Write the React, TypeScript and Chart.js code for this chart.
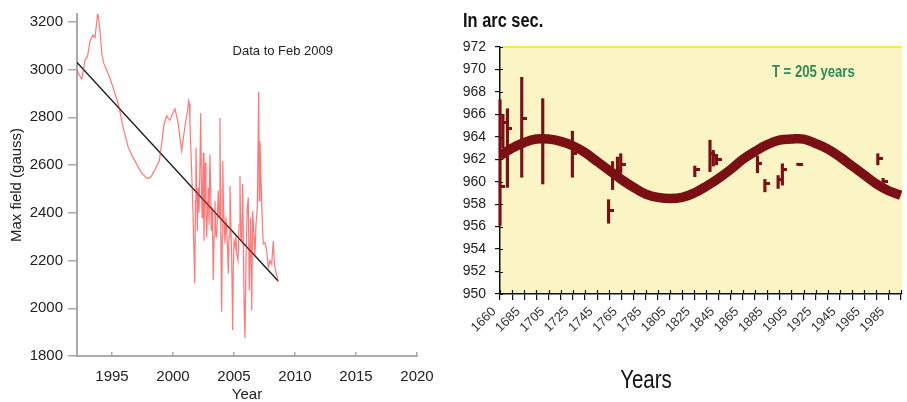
import React, { useEffect, useRef } from "react";
import { Chart, registerables } from "chart.js";

Chart.register(...registerables);

// ---------- Left chart: sunspot max field ----------
const fieldYears = [
  1992.15, 1992.33, 1992.52, 1992.66, 1992.78, 1992.99, 1993.2, 1993.42, 1993.61, 1993.83,
  1994.02, 1994.18, 1994.34, 1994.83, 1995.52, 1995.9, 1996.33, 1996.64, 1997.02, 1997.38,
  1997.84, 1998.11, 1998.25, 1998.52, 1998.88, 1999.1, 1999.26, 1999.48, 1999.63, 1999.75,
  1999.92, 2000.16, 2000.41, 2000.71, 2000.93, 2001.06, 2001.2, 2001.28, 2001.35, 2001.39,
  2001.51,
  2001.64, 2001.78, 2001.84, 2001.88, 2001.95, 2001.99, 2002.05, 2002.13, 2002.21, 2002.27,
  2002.32, 2002.38, 2002.43, 2002.48, 2002.54, 2002.58, 2002.65, 2002.7, 2002.76, 2002.83,
  2002.89, 2002.95, 2003.03, 2003.09, 2003.14, 2003.2, 2003.25, 2003.3, 2003.36, 2003.44,
  2003.5, 2003.58, 2003.65, 2003.71, 2003.77, 2003.85, 2003.89, 2003.93, 2003.99, 2004.04,
  2004.08, 2004.14, 2004.2, 2004.26, 2004.34, 2004.4, 2004.47, 2004.53, 2004.59, 2004.67,
  2004.74, 2004.81, 2004.89, 2004.94, 2005.0, 2005.08, 2005.16, 2005.22, 2005.33, 2005.41,
  2005.49, 2005.55, 2005.63, 2005.71, 2005.76, 2005.82, 2005.9, 2005.98, 2006.09, 2006.17,
  2006.25, 2006.37, 2006.45, 2006.53, 2006.64, 2006.72, 2006.8, 2006.91, 2007.02, 2007.07,
  2007.13, 2007.21, 2007.32, 2007.4, 2007.54, 2007.68, 2007.81, 2007.95, 2008.09, 2008.22,
  2008.3, 2008.44, 2008.55, 2008.63,
];
const fieldGauss = [
  2995, 2975, 2960, 3000, 3040, 3055, 3120, 3145, 3135, 3240,
  3160, 3060, 3025, 2965, 2856, 2760, 2674, 2640, 2604, 2570,
  2545, 2545, 2556, 2580, 2619, 2700, 2770, 2806, 2795, 2788,
  2810, 2836, 2780, 2660, 2744, 2790, 2827, 2870, 2855, 2770,
  2600,
  2400, 2104, 2450, 2672, 2480, 2325, 2505, 2400, 2600, 2818,
  2550, 2380, 2500, 2651, 2283, 2450, 2610, 2400, 2297, 2420,
  2505, 2350, 2644, 2500, 2325, 2422, 2300, 2117, 2300, 2450,
  2330, 2297, 2400, 2492, 2380, 2797, 2500, 2229, 1985, 2300,
  2617, 2420, 2354, 2271, 2380, 2330, 2250, 2146, 2300, 2512,
  2350, 2214, 1908, 2150, 2280, 2260, 2300, 2230, 2200, 2350,
  2554, 2300, 2283, 2521, 2300, 2033, 1875, 2200, 2422, 2464,
  2075, 2380, 1992, 2408, 2300, 2220, 2350, 2422, 2908, 2450,
  2700, 2547, 2367, 2270, 2275, 2242, 2172, 2200, 2185, 2283,
  2190, 2150, 2130, 2110,
];
const trendYears = [1992.13, 2008.6];
const trendGauss = [3030, 2115];
const leftXTicks = [1995, 2000, 2005, 2010, 2015, 2020];
const leftYTicks = [1800, 2000, 2200, 2400, 2600, 2800, 3000, 3200];
const leftXRange = [1992.13, 2020];
const leftYRange = [1800, 3233];

// ---------- Right chart: solar diameter in arc sec ----------
const fitYears = [
  1665, 1675, 1685, 1695, 1705, 1715, 1725, 1735, 1745, 1755, 1765, 1775, 1785, 1795, 1805, 1815, 1825,
  1835, 1845, 1855, 1865, 1875, 1885, 1895, 1905, 1915, 1925, 1935, 1945, 1955, 1965, 1975, 1985, 1995,
];
const fitArcsec = [
  962.3, 963.0, 963.5, 963.8, 963.8, 963.6, 963.2, 962.6, 961.8, 961.0, 960.2, 959.5, 958.9, 958.6, 958.5, 958.6, 959.0,
  959.6, 960.3, 961.1, 962.0, 962.7, 963.3, 963.7, 963.8, 963.8, 963.4, 962.9, 962.2, 961.4, 960.6, 959.8, 959.2, 958.8,
];
const obsYears = [1665.0, 1667.4, 1671.1, 1682.9, 1700.2, 1724.6, 1754.4, 1757.7, 1761.7, 1764.4, 1825.4, 1837.9, 1840.6, 1843.3, 1877.0, 1883.1, 1894.0, 1897.5, 1910.3, 1976.1, 1980.4];
const obsHigh = [967.3, 966.0, 966.5, 969.3, 967.4, 964.5, 958.4, 961.8, 962.2, 962.5, 961.4, 963.7, 962.8, 962.3, 962.3, 960.2, 960.55, 961.6, 961.65, 962.5, 960.3];
const obsLow = [956.1, 963.0, 959.5, 960.4, 959.8, 960.4, 956.3, 959.3, 960.6, 960.75, 960.45, 960.9, 961.4, 961.5, 960.8, 959.1, 959.4, 959.7, 961.45, 961.5, 959.4];
const obsClose = [959.6, 965.3, 964.7, 965.6, 963.8, 962.5, 957.4, 960.8, 961.0, 961.55, 961.1, 962.5, 962.3, 962.0, 961.6, 959.85, 960.2, 961.1, 961.55, 962.1, 960.0];
const rightXTickYears = [
  1665, 1675, 1685, 1695, 1705, 1715, 1725, 1735, 1745, 1755, 1765, 1775, 1785, 1795, 1805, 1815, 1825,
  1835, 1845, 1855, 1865, 1875, 1885, 1895, 1905, 1915, 1925, 1935, 1945, 1955, 1965, 1975, 1985, 1995,
];
const rightXTickLabels = [
  "1660", "", "1685", "", "1705", "", "1725", "", "1745", "", "1765", "", "1785", "", "1805", "", "1825", "",
  "1845", "", "1865", "", "1885", "", "1905", "", "1925", "", "1945", "", "1965", "", "1985", "",
];
const rightYTicks = [950, 952, 954, 956, 958, 960, 962, 964, 966, 968, 970, 972];
const rightXRange = [1665, 1996];
const rightYRange = [950, 972];

const SANS = '"Liberation Sans", Arial, Helvetica, sans-serif';
const MAROON = "#7a1013";

function textPlugin(id: string, items: any[]) {
  return {
    id,
    afterDraw(chart: any) {
      const { ctx } = chart;
      for (const it of items) {
        let px: number, py: number;
        if (it.data) {
          px = chart.scales.x.getPixelForValue(it.data[0]);
          py = chart.scales.y.getPixelForValue(it.data[1]);
        } else {
          px = it.x;
          py = it.y;
        }
        ctx.save();
        ctx.font = it.font;
        ctx.fillStyle = it.color;
        ctx.textAlign = it.align || "center";
        ctx.textBaseline = "middle";
        ctx.translate(px, py);
        ctx.scale(it.sx || 1, 1);
        ctx.fillText(it.text, 0, 0);
        ctx.restore();
      }
    },
  };
}

export default function App() {
  const leftRef = useRef<HTMLCanvasElement | null>(null);
  const rightRef = useRef<HTMLCanvasElement | null>(null);

  useEffect(() => {
    const grayAxis = "#a9a9a9";
    const left = new Chart(leftRef.current as HTMLCanvasElement, {
      type: "scatter",
      data: {
        datasets: [
          {
            data: fieldYears.map((x, i) => ({ x, y: fieldGauss[i] })),
            showLine: true,
            borderColor: "rgba(255,35,35,0.62)",
            borderWidth: 1.2,
            pointRadius: 0,
          },
          {
            data: trendYears.map((x, i) => ({ x, y: trendGauss[i] })),
            showLine: true,
            borderColor: "#1c1c1c",
            borderWidth: 1.4,
            pointRadius: 0,
          },
        ],
      },
      options: {
        animation: false,
        responsive: false,
        devicePixelRatio: 1,
        layout: { padding: { top: 12, right: 33, left: 0, bottom: 0 } },
        plugins: { legend: { display: false }, tooltip: { enabled: false } },
        scales: {
          x: {
            type: "linear",
            min: leftXRange[0],
            max: leftXRange[1],
            afterBuildTicks: (a: any) => { a.ticks = leftXTicks.map((v) => ({ value: v })); },
            afterFit: (s: any) => { s.height = 46; },
            grid: { drawOnChartArea: false, drawTicks: true, tickLength: -4, color: grayAxis, lineWidth: 1.5 },
            border: { display: true, color: grayAxis, width: 2 },
            ticks: { color: "#222", font: { family: SANS, size: 15 }, padding: 16, maxRotation: 0, autoSkip: false, callback: (v: any) => String(v) },
            title: { display: true, text: "Year", color: "#222", font: { family: SANS, size: 15, lineHeight: 1 }, padding: { top: 0, bottom: 0 } },
          },
          y: {
            type: "linear",
            min: leftYRange[0],
            max: leftYRange[1],
            afterBuildTicks: (a: any) => { a.ticks = leftYTicks.map((v) => ({ value: v })); },
            afterFit: (s: any) => { s.width = 77; },
            grid: { drawOnChartArea: false, drawTicks: true, tickLength: 9, color: grayAxis, lineWidth: 1.5 },
            border: { display: true, color: grayAxis, width: 2 },
            ticks: { color: "#222", font: { family: SANS, size: 15 }, padding: 5, callback: (v: any) => String(v) },
            title: { display: true, text: "Max field (gauss)", color: "#222", font: { family: SANS, size: 15, lineHeight: 1.2 }, padding: { top: 8, bottom: 0 } },
          },
        },
      } as any,
      plugins: [
        textPlugin("leftText", [
          { text: "Data to Feb 2009", data: [2009.0, 3075], font: `13px ${SANS}`, color: "#222" },
        ]),
      ],
    });

    const tickImg = document.createElement("canvas");
    tickImg.width = 10;
    tickImg.height = 3;
    const tctx = tickImg.getContext("2d") as CanvasRenderingContext2D;
    tctx.fillStyle = MAROON;
    tctx.fillRect(5, 0, 5, 3);

    const plotBg = {
      id: "plotBg",
      beforeDraw(chart: any) {
        const { ctx, chartArea: { left, top, right, bottom } } = chart;
        ctx.save();
        ctx.fillStyle = "#fbf5c6";
        ctx.fillRect(left, top, right - left, bottom - top);
        ctx.strokeStyle = "#f2ea00";
        ctx.lineWidth = 1.5;
        ctx.beginPath();
        ctx.moveTo(left + 3, top);
        ctx.lineTo(right, top);
        ctx.stroke();
        ctx.restore();
      },
    };
    const innerTicks = {
      id: "innerTicks",
      afterDraw(chart: any) {
        const { ctx, chartArea, scales } = chart;
        ctx.save();
        ctx.strokeStyle = "#111";
        ctx.lineWidth = 1.2;
        ctx.beginPath();
        for (const t of scales.x.ticks) {
          const px = Math.round(scales.x.getPixelForValue(t.value)) + 0.5;
          ctx.moveTo(px, chartArea.bottom);
          ctx.lineTo(px, chartArea.bottom - 4);
        }
        for (const t of scales.y.ticks) {
          const py = Math.round(scales.y.getPixelForValue(t.value)) + 0.5;
          ctx.moveTo(chartArea.left, py);
          ctx.lineTo(chartArea.left + 3, py);
        }
        ctx.stroke();
        ctx.restore();
      },
    };

    const right = new Chart(rightRef.current as HTMLCanvasElement, {
      type: "bar",
      data: {
        datasets: [
          {
            type: "line",
            data: fitYears.map((x, i) => ({ x, y: fitArcsec[i] })),
            borderColor: MAROON,
            borderWidth: 9.5,
            pointRadius: 0,
            tension: 0.4,
            order: 2,
          },
          {
            type: "bar",
            data: obsYears.map((x, i) => ({ x, y: [obsLow[i], obsHigh[i]] })),
            backgroundColor: MAROON,
            borderWidth: 0,
            barThickness: 2.5,
            clip: false,
            order: 1,
          },
          {
            type: "scatter",
            data: obsYears.map((x, i) => ({ x, y: obsClose[i] })),
            pointStyle: tickImg,
            pointRadius: 3,
            order: 0,
          },
        ],
      } as any,
      options: {
        animation: false,
        responsive: false,
        devicePixelRatio: 1,
        layout: { padding: { left: 0, top: 47, right: 0, bottom: 0 } },
        plugins: {
          legend: { display: false },
          tooltip: { enabled: false },
        },
        scales: {
          x: {
            type: "linear",
            min: rightXRange[0],
            max: rightXRange[1],
            offset: false,
            afterBuildTicks: (a: any) => { a.ticks = rightXTickYears.map((v) => ({ value: v })); },
            afterFit: (s: any) => { s.height = 108; s.paddingLeft = 0; s.paddingRight = 0; },
            grid: { drawOnChartArea: false, offset: false, drawTicks: true, tickLength: 6, color: "#111", lineWidth: 1.2 },
            border: { display: true, color: "#111", width: 1.5 },
            ticks: {
              autoSkip: false,
              minRotation: 45,
              maxRotation: 45,
              callback: (_v: any, i: number) => rightXTickLabels[i],
              color: "#333",
              font: { family: SANS, size: 13 },
              padding: 4,
              labelOffset: -6,
            },
          },
          y: {
            type: "linear",
            min: rightYRange[0],
            max: rightYRange[1],
            afterBuildTicks: (a: any) => { a.ticks = rightYTicks.map((v) => ({ value: v })); },
            afterFit: (s: any) => { s.width = 50; },
            grid: { drawOnChartArea: false, drawTicks: true, tickLength: 5, color: "#111", lineWidth: 1.2 },
            border: { display: true, color: "#111", width: 1.5 },
            ticks: { color: "#222", font: { family: SANS, size: 14 }, padding: 9 },
          },
        },
      } as any,
      plugins: [
        plotBg,
        innerTicks,
        textPlugin("rightText", [
          { text: "In arc sec.", x: 13, y: 21, align: "left", sx: 0.82, font: `bold 20px ${SANS}`, color: "#111" },
          { text: "T = 205 years", data: [1923, 969.7], sx: 0.82, font: `bold 16px ${SANS}`, color: "#2e8b57" },
          { text: "Years", x: 196, y: 381, sx: 0.82, font: `25px ${SANS}`, color: "#111" },
        ]),
      ],
    });

    return () => {
      left.destroy();
      right.destroy();
    };
  }, []);

  return (
    <div style={{ position: "fixed", left: 0, top: 0, width: 907, height: 402, background: "#fff", overflow: "hidden" }}>
      <div style={{ position: "absolute", left: 0, top: 0, width: 450, height: 402 }}>
        <canvas ref={leftRef} width={450} height={402} style={{ display: "block" }} />
      </div>
      <div style={{ position: "absolute", left: 450, top: 0, width: 457, height: 402 }}>
        <canvas ref={rightRef} width={457} height={402} style={{ display: "block" }} />
      </div>
    </div>
  );
}
